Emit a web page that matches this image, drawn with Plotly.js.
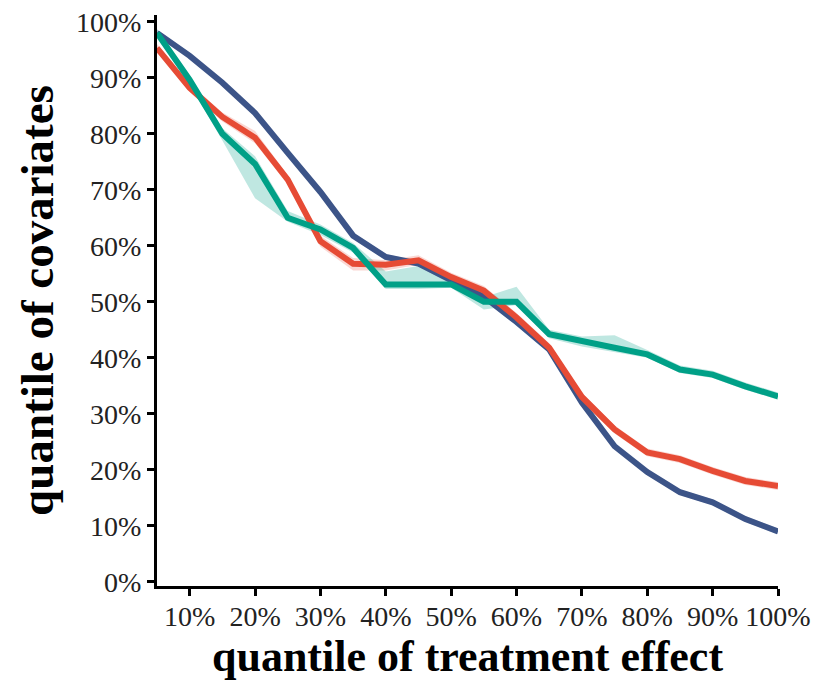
<!DOCTYPE html>
<html>
<head>
<meta charset="utf-8">
<script src="https://cdn.plot.ly/plotly-3.0.1.min.js"></script>
<style>
  html, body { margin: 0; padding: 0; background: #fff; }
  #chart { width: 820px; height: 682px; }
</style>
</head>
<body>
<div id="chart"></div>
<script>
// Quantile of treatment effect (x, in %)
const quantiles = [5, 10, 15, 20, 25, 30, 35, 40, 45, 50, 55, 60, 65, 70, 75, 80, 85, 90, 95, 100];

// Quantile of covariates for each series (in %)
const blueValues  = [98.0, 93.9, 89.1, 83.7, 76.6, 69.6, 61.8, 58.0, 56.8, 53.7, 50.9, 46.4, 41.5, 32.0, 24.2, 19.6, 16.0, 14.2, 11.2, 9.0];
const redValues   = [95.3, 88.2, 83.0, 79.3, 71.8, 60.8, 56.8, 56.6, 57.4, 54.4, 52.0, 47.2, 41.8, 33.0, 27.2, 23.1, 21.9, 19.8, 18.0, 17.1];
const greenValues = [98.0, 89.6, 80.0, 74.6, 65.0, 62.9, 59.6, 53.1, 53.1, 53.1, 50.0, 50.0, 44.2, 42.9, 41.8, 40.6, 37.9, 37.0, 34.9, 33.1];

// Uncertainty bands (lower / upper) for each series
const blueLower  = [97.5, 93.4, 88.6, 83.2, 76.1, 69.1, 61.3, 57.5, 56.3, 53.2, 50.4, 45.9, 41.0, 31.5, 23.7, 19.1, 15.5, 13.7, 10.7, 8.5];
const blueUpper  = [98.5, 94.4, 89.6, 84.2, 77.1, 70.1, 62.3, 58.5, 57.3, 54.2, 51.4, 46.9, 42.0, 32.5, 24.7, 20.1, 16.5, 14.7, 11.7, 9.5];
const redLower   = [94.6, 87.5, 82.2, 78.3, 71.0, 59.8, 55.6, 55.6, 56.6, 53.6, 51.2, 46.4, 41.0, 32.2, 26.5, 22.4, 21.2, 19.1, 17.3, 16.4];
const redUpper   = [96.0, 88.9, 83.8, 80.5, 72.6, 61.8, 57.8, 57.4, 58.3, 55.2, 52.8, 48.0, 42.6, 33.8, 27.9, 23.8, 22.6, 20.5, 18.7, 17.8];
const greenLower = [97.3, 88.9, 78.8, 68.5, 64.3, 61.9, 58.8, 52.3, 52.3, 52.5, 48.6, 49.4, 43.5, 42.0, 41.0, 40.0, 37.3, 36.4, 34.3, 32.5];
const greenUpper = [98.7, 90.3, 81.0, 76.0, 66.2, 63.8, 60.5, 55.4, 56.4, 54.0, 50.8, 52.7, 45.0, 43.8, 44.0, 41.4, 38.6, 37.7, 35.6, 33.8];

// Axis ticks
const xTickVals = [10, 20, 30, 40, 50, 60, 70, 80, 90, 100];
const xTickText = ['10%', '20%', '30%', '40%', '50%', '60%', '70%', '80%', '90%', '100%'];
const yTickVals = [0, 10, 20, 30, 40, 50, 60, 70, 80, 90, 100];
const yTickText = ['0%', '10%', '20%', '30%', '40%', '50%', '60%', '70%', '80%', '90%', '100%'];

const BLUE = '#3C5488', RED = '#E64B35', GREEN = '#00A087';

function band(lower, upper, fill) {
  return {
    x: quantiles.concat(quantiles.slice().reverse()),
    y: upper.concat(lower.slice().reverse()),
    type: 'scatter', mode: 'lines', fill: 'toself',
    fillcolor: fill, line: { width: 0, color: 'rgba(0,0,0,0)' },
    hoverinfo: 'skip', showlegend: false
  };
}

function line(values, color) {
  return {
    x: quantiles, y: values, type: 'scatter', mode: 'lines',
    line: { color: color, width: 6 }, showlegend: false
  };
}

const traces = [
  band(blueLower, blueUpper, 'rgba(60,84,136,0.22)'),
  band(redLower, redUpper, 'rgba(230,75,53,0.22)'),
  band(greenLower, greenUpper, 'rgba(0,160,135,0.25)'),
  line(blueValues, BLUE),
  line(redValues, RED),
  line(greenValues, GREEN)
];

const serif = 'Liberation Serif, Times New Roman, serif';
const tickFont = { family: serif, size: 28, color: '#222' };

const layout = {
  width: 820, height: 682,
  margin: { l: 157, r: 42, t: 15, b: 96 },
  paper_bgcolor: '#fff', plot_bgcolor: '#fff',
  showlegend: false,
  xaxis: {
    range: [5, 100], tickmode: 'array', tickvals: xTickVals, ticktext: xTickText,
    ticks: 'outside', ticklen: 7, tickwidth: 3, tickcolor: '#000',
    showline: true, linewidth: 3, linecolor: '#000',
    showgrid: false, zeroline: false, tickfont: tickFont, ticklabelstandoff: -4,
    title: { text: '<b>quantile of treatment effect</b>', font: { family: serif, size: 44, color: '#000' }, standoff: 10 }
  },
  yaxis: {
    range: [-0.75, 101.2], tickmode: 'array', tickvals: yTickVals, ticktext: yTickText,
    ticks: 'outside', ticklen: 7, tickwidth: 3, tickcolor: '#000',
    showline: true, linewidth: 3, linecolor: '#000',
    showgrid: false, zeroline: false, tickfont: tickFont,
    title: { text: '<b>quantile of covariates</b>', font: { family: serif, size: 47, color: '#000' }, standoff: 8 }
  }
};

Plotly.newPlot('chart', traces, layout, { displayModeBar: false, staticPlot: true });
</script>
</body>
</html>
